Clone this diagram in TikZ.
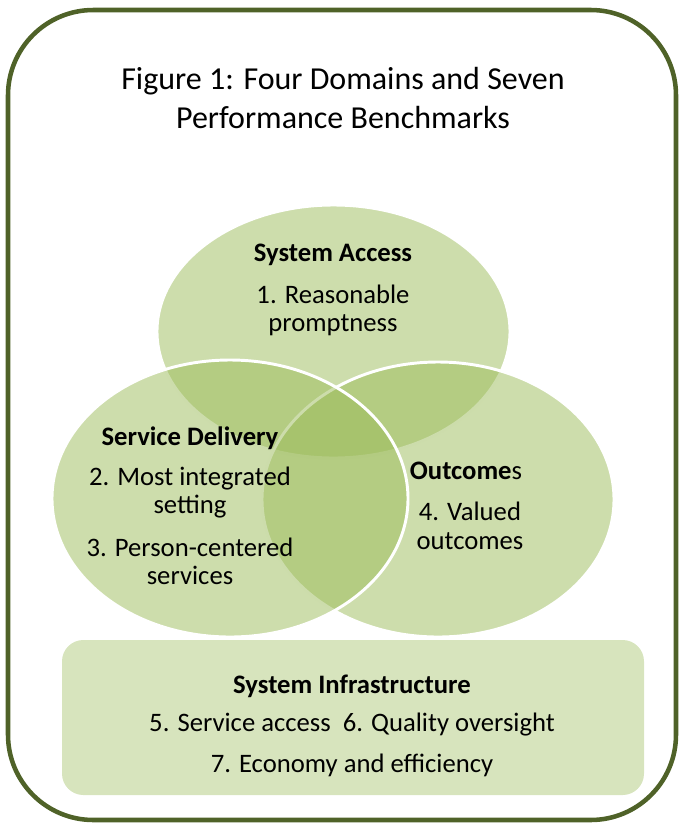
\documentclass[tikz,border=0pt]{standalone}
\usepackage{fontspec}
\setmainfont{Carlito}
\usetikzlibrary{shapes.geometric}
\definecolor{frameolive}{HTML}{4F6228}
\definecolor{vennolive}{HTML}{9BBB59}
\definecolor{infrafill}{HTML}{D7E4BD}
\begin{document}
\begin{tikzpicture}[x=0.75pt,y=-0.75pt,
  frame/.style={draw=frameolive,line width=3.4pt,rounded corners=64pt},
  venn/.style={ellipse,draw=white,line width=2.2pt,fill=vennolive,fill opacity=0.5,draw opacity=1,inner sep=0pt,outer sep=0pt},
  infra/.style={rectangle,rounded corners=16pt,fill=infrafill,inner sep=0pt,outer sep=0pt},
  titletext/.style={anchor=base,inner sep=0pt,font=\fontsize{24}{29}\selectfont},
  bodytext/.style={anchor=base,inner sep=0pt,font=\fontsize{20}{24}\selectfont},
  headtext/.style={bodytext,font=\fontsize{20}{24}\selectfont\bfseries}]
\useasboundingbox (0,0) rectangle (684,825);
% outer frame
\draw[frame] (8,10) rectangle (676,820);
% title
\node[titletext] (t1) at (343,89) {Figure 1: Four Domains and Seven};
\node[titletext] (t2) at (343,128) {Performance Benchmarks};
% the three overlapping domains
\node[venn,minimum width=264.75pt,minimum height=189.75pt] (access) at (333.5,331.5) {};
\node[venn,minimum width=264pt,minimum height=206.25pt] (outcomes) at (438,499.5) {};
\node[venn,minimum width=267pt,minimum height=207.75pt] (delivery) at (230,498.5) {};
% system infrastructure band
\node[infra,minimum width=436.5pt,minimum height=116.25pt] (infra) at (353,717.5) {};
% domain texts
\node[headtext] (h1) at (333,261) {System Access};
\node[bodytext] (b1a) at (333,303) {1. Reasonable};
\node[bodytext] (b1b) at (333,331) {promptness};
\node[headtext] (h2) at (190,445) {Service Delivery};
\node[bodytext] (b2a) at (190,485) {2. Most integrated};
\node[bodytext] (b2b) at (190,513) {setting};
\node[bodytext] (b3a) at (190,556) {3. Person-centered};
\node[bodytext] (b3b) at (190,584) {services};
\node[bodytext] (h3) at (466,479) {\textbf{Outcome}s};
\node[bodytext] (b4a) at (470,520) {4. Valued};
\node[bodytext] (b4b) at (470,549) {outcomes};
\node[headtext] (h4) at (352,693) {System Infrastructure};
\node[bodytext] (b5) at (352,731) {5. Service access\ \ 6. Quality oversight};
\node[bodytext] (b7) at (352,772) {7. Economy and efficiency};
\end{tikzpicture}
\end{document}
